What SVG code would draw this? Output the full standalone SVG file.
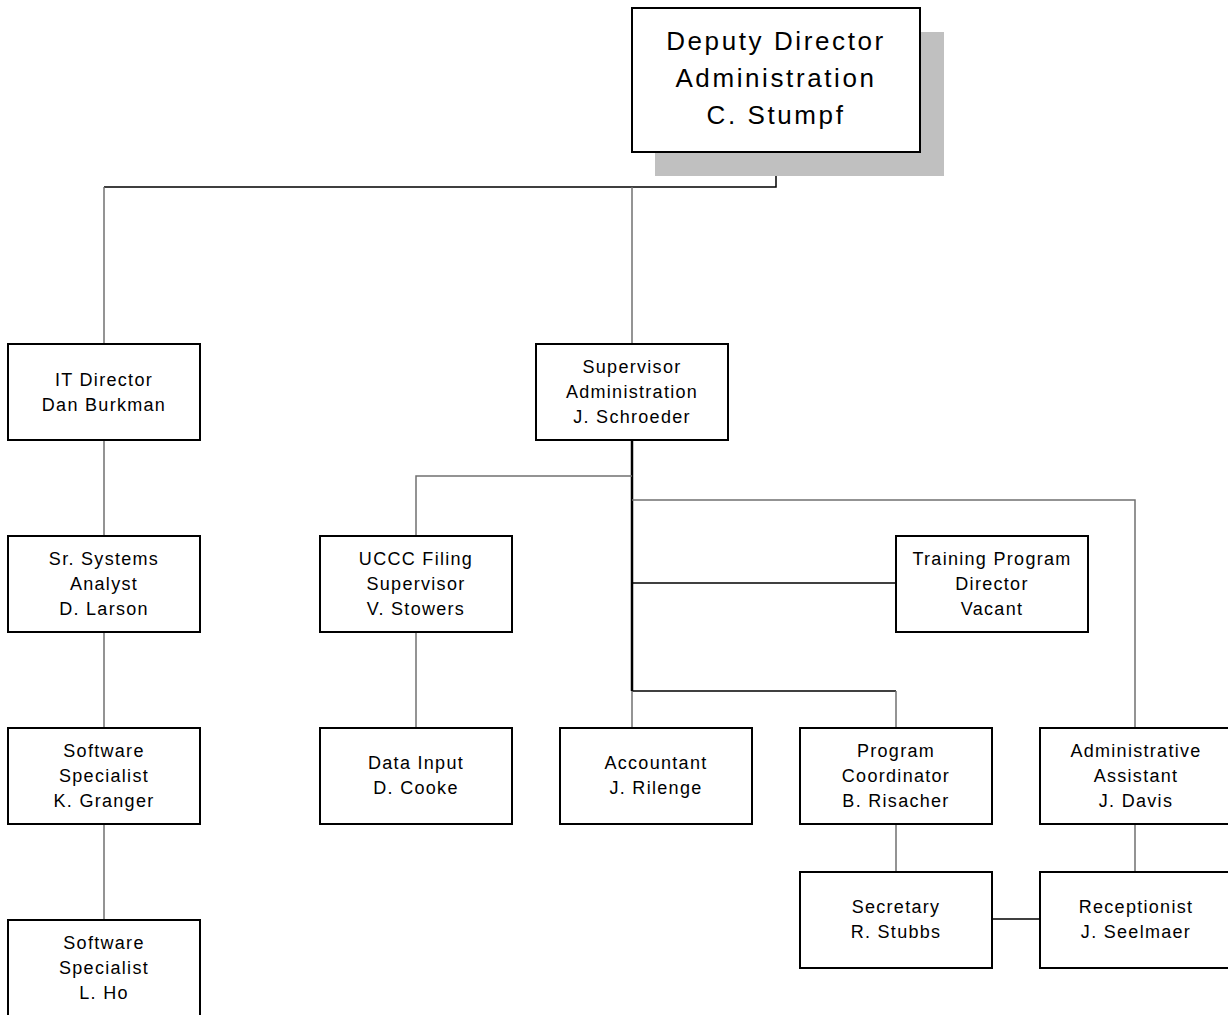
<svg xmlns="http://www.w3.org/2000/svg" width="1228" height="1015" viewBox="0 0 1228 1015">
<style>
.box{fill:#fff;stroke:#000;stroke-width:2}
.t{font-family:"Liberation Sans",Arial,sans-serif;font-size:18px;letter-spacing:1.3px;text-anchor:middle;fill:#000}
.tb{font-family:"Liberation Sans",Arial,sans-serif;font-size:26px;letter-spacing:2.6px;text-anchor:middle;fill:#000}
.g{fill:none;stroke:#707070;stroke-width:1.5}
.k{fill:none;stroke:#000;stroke-width:1.5}
.kk{fill:none;stroke:#000;stroke-width:2.5}
</style>
<rect width="1228" height="1015" fill="#fff"/>
<g id="connectors">
<path class="k" d="M776,152 V187 H104"/>
<path class="g" d="M104,187 V344"/>
<path class="g" d="M632,187 V344"/>
<path class="g" d="M104,440 V536 M104,632 V728 M104,824 V920"/>
<path class="kk" d="M632,440 V691"/>
<path class="g" d="M632,476 H416 V536"/>
<path class="g" d="M632,500 H1135 V728"/>
<path class="k" d="M632,583 H896"/>
<path class="k" d="M632,691 H896"/>
<path class="g" d="M896,691 V728"/>
<path class="g" d="M632,691 V728"/>
<path class="g" d="M416,632 V728"/>
<path class="g" d="M896,824 V872 M1135,824 V872"/>
<path class="k" d="M992,919 H1040"/>
</g>
<g id="deputy-director">
<rect x="655" y="32" width="289" height="144" fill="#c0c0c0"/>
<rect class="box" x="632" y="8" width="288" height="144"/>
<text class="tb" x="776" y="50">Deputy Director</text>
<text class="tb" x="776" y="87">Administration</text>
<text class="tb" x="776" y="124">C. Stumpf</text>
</g>
<g id="it-director">
<rect class="box" x="8" y="344" width="192" height="96"/>
<text class="t" x="104" y="386">IT Director</text>
<text class="t" x="104" y="411">Dan Burkman</text>
</g>
<g id="supervisor-admin">
<rect class="box" x="536" y="344" width="192" height="96"/>
<text class="t" x="632" y="373">Supervisor</text>
<text class="t" x="632" y="398">Administration</text>
<text class="t" x="632" y="423">J. Schroeder</text>
</g>
<g id="sr-systems-analyst">
<rect class="box" x="8" y="536" width="192" height="96"/>
<text class="t" x="104" y="565">Sr. Systems</text>
<text class="t" x="104" y="590">Analyst</text>
<text class="t" x="104" y="615">D. Larson</text>
</g>
<g id="uccc-filing">
<rect class="box" x="320" y="536" width="192" height="96"/>
<text class="t" x="416" y="565">UCCC Filing</text>
<text class="t" x="416" y="590">Supervisor</text>
<text class="t" x="416" y="615">V. Stowers</text>
</g>
<g id="training-program">
<rect class="box" x="896" y="536" width="192" height="96"/>
<text class="t" x="992" y="565">Training Program</text>
<text class="t" x="992" y="590">Director</text>
<text class="t" x="992" y="615">Vacant</text>
</g>
<g id="software-specialist-granger">
<rect class="box" x="8" y="728" width="192" height="96"/>
<text class="t" x="104" y="757">Software</text>
<text class="t" x="104" y="782">Specialist</text>
<text class="t" x="104" y="807">K. Granger</text>
</g>
<g id="data-input">
<rect class="box" x="320" y="728" width="192" height="96"/>
<text class="t" x="416" y="769">Data Input</text>
<text class="t" x="416" y="794">D. Cooke</text>
</g>
<g id="accountant">
<rect class="box" x="560" y="728" width="192" height="96"/>
<text class="t" x="656" y="769">Accountant</text>
<text class="t" x="656" y="794">J. Rilenge</text>
</g>
<g id="program-coordinator">
<rect class="box" x="800" y="728" width="192" height="96"/>
<text class="t" x="896" y="757">Program</text>
<text class="t" x="896" y="782">Coordinator</text>
<text class="t" x="896" y="807">B. Risacher</text>
</g>
<g id="administrative-assistant">
<rect class="box" x="1040" y="728" width="192" height="96"/>
<text class="t" x="1136" y="757">Administrative</text>
<text class="t" x="1136" y="782">Assistant</text>
<text class="t" x="1136" y="807">J. Davis</text>
</g>
<g id="secretary">
<rect class="box" x="800" y="872" width="192" height="96"/>
<text class="t" x="896" y="913">Secretary</text>
<text class="t" x="896" y="938">R. Stubbs</text>
</g>
<g id="receptionist">
<rect class="box" x="1040" y="872" width="192" height="96"/>
<text class="t" x="1136" y="913">Receptionist</text>
<text class="t" x="1136" y="938">J. Seelmaer</text>
</g>
<g id="software-specialist-ho">
<rect class="box" x="8" y="920" width="192" height="100"/>
<text class="t" x="104" y="949">Software</text>
<text class="t" x="104" y="974">Specialist</text>
<text class="t" x="104" y="999">L. Ho</text>
</g>
</svg>
